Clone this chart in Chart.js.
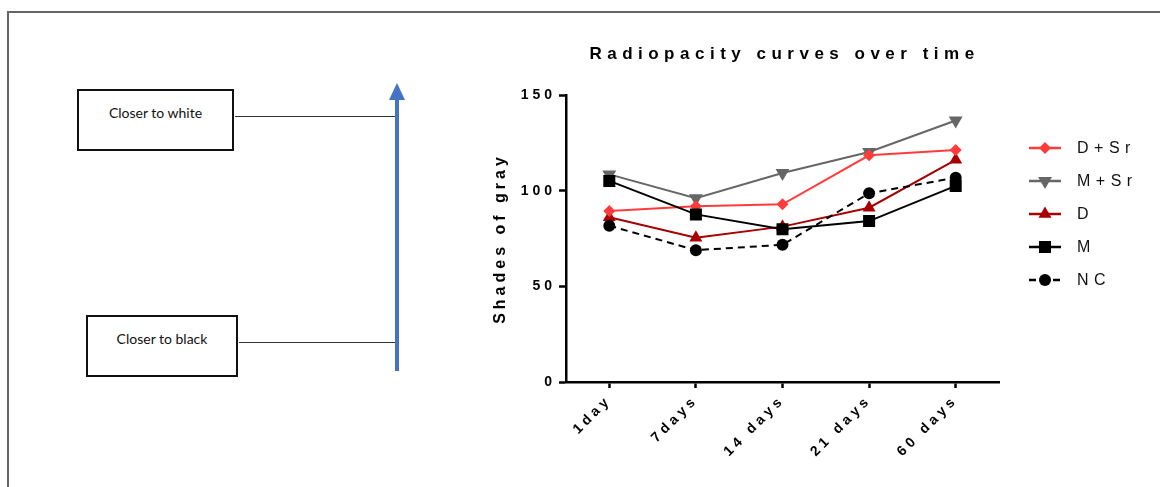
<!DOCTYPE html>
<html lang="en">
<head>
<meta charset="utf-8">
<title>Radiopacity curves over time</title>
<script src="https://cdn.jsdelivr.net/npm/chart.js@4/dist/chart.umd.min.js"></script>
<style>
  body { margin: 0; background: #fff; }
  #wrap { position: relative; width: 1160px; height: 487px; overflow: hidden; }
  #chart { position: absolute; left: 0; top: 0; }
  .frameTop { position: absolute; left: 7px; top: 11px; width: 1153px; height: 2px; background: #666; }
  .frameLeft { position: absolute; left: 7px; top: 11px; width: 2px; height: 476px; background: #666; }
  .box { position: absolute; border: 2px solid #111; box-sizing: border-box;
         font-family: Lato, "Open Sans", sans-serif; font-size: 14px; color: #111; text-align: center; }
  .link { position: absolute; height: 1px; background: #333; }
  .arrow { position: absolute; left: 395px; top: 99px; width: 4px; height: 272px; background: #4472C4; }
  .head { position: absolute; left: 389px; top: 83px; width: 0; height: 0;
          border-left: 8px solid transparent; border-right: 8px solid transparent; border-bottom: 17px solid #4472C4; }
</style>
</head>
<body>
<div id="wrap">
  <div class="frameTop"></div>
  <div class="frameLeft"></div>
  <div class="box" style="left:77px; top:89px; width:157px; height:62px; padding-top:13px;">Closer to white</div>
  <div class="box" style="left:86px; top:315px; width:152px; height:62px; padding-top:13px;">Closer to black</div>
  <div class="link" style="left:235px; top:116px; width:161px;"></div>
  <div class="link" style="left:239px; top:342px; width:157px;"></div>
  <div class="arrow"></div>
  <div class="head"></div>
  <canvas id="chart" width="1160" height="487"></canvas>
</div>
<script>
const days = ['1day', '7days', '14 days', '21 days', '60 days'];
const seriesNames = ['D+Sr', 'M+Sr', 'D', 'M', 'NC'];
const dSr = [89.4, 91.8, 92.9, 118.5, 121.2];
const mSr = [108.5, 96.0, 109.2, 120.2, 136.7];
const dOnly = [86.1, 75.4, 81.2, 91.1, 116.1];
const mOnly = [105.1, 87.6, 79.8, 84.1, 102.5];
const nc = [81.7, 68.9, 71.7, 98.6, 106.8];
const yTicks = [0, 50, 100, 150];

const FONT = '"Liberation Sans", Arial, sans-serif';

// canvas text in the reference is widely letter-spaced
const spacing = {
  id: 'spacing',
  afterInit(chart) { chart.ctx.letterSpacing = '4px'; },
  beforeUpdate(chart) { chart.ctx.letterSpacing = '4px'; },
  beforeDraw(chart) { chart.ctx.letterSpacing = '4px'; }
};

function marker(ctx, ds, x, y) {
  const r = ds.pointRadius;
  ctx.fillStyle = ds.pointBackgroundColor;
  ctx.beginPath();
  if (ds.pointStyle === 'circle') {
    ctx.arc(x, y, r, 0, Math.PI * 2);
  } else if (ds.pointStyle === 'rect') {
    const h = r * Math.SQRT1_2;
    ctx.rect(x - h, y - h, 2 * h, 2 * h);
  } else if (ds.pointStyle === 'rectRot') {
    ctx.moveTo(x, y - r); ctx.lineTo(x + r, y); ctx.lineTo(x, y + r); ctx.lineTo(x - r, y);
  } else {
    const rot = (ds.pointRotation || 0) * Math.PI / 180;
    for (let k = 0; k < 3; k++) {
      const a = rot + k * 2 * Math.PI / 3;
      const px = x + Math.sin(a) * r, py = y - Math.cos(a) * r;
      k ? ctx.lineTo(px, py) : ctx.moveTo(px, py);
    }
  }
  ctx.closePath();
  ctx.fill();
}

const decor = {
  id: 'decor',
  afterDraw(chart) {
    const ctx = chart.ctx;
    const area = chart.chartArea;
    ctx.save();
    // title
    ctx.letterSpacing = '5.5px';
    ctx.font = 'bold 17px ' + FONT;
    ctx.fillStyle = '#000';
    ctx.textAlign = 'center';
    ctx.textBaseline = 'middle';
    ctx.fillText('Radiopacity curves over time', (area.left + area.right) / 2 + 2, 54);
    // legend
    ctx.font = '16px ' + FONT;
    ctx.textAlign = 'left';
    chart.data.datasets.forEach((ds, i) => {
      const y = 148 + i * 33;
      ctx.strokeStyle = ds.borderColor;
      ctx.lineWidth = 2.5;
      ctx.setLineDash(ds.borderDash || []);
      ctx.beginPath();
      ctx.moveTo(1029, y); ctx.lineTo(1061, y);
      ctx.stroke();
      ctx.setLineDash([]);
      marker(ctx, ds, 1045, y);
      ctx.fillStyle = '#111';
      ctx.fillText(ds.label, 1077, y + 1);
    });
    ctx.restore();
  }
};

function series(label, data, color, style, radius, extra) {
  return Object.assign({
    label: label,
    data: data,
    borderColor: color,
    backgroundColor: color,
    pointBackgroundColor: color,
    pointBorderColor: color,
    pointStyle: style,
    pointRadius: radius,
    pointBorderWidth: 0,
    borderWidth: 2,
    tension: 0,
    fill: false
  }, extra || {});
}

const datasets = [
  series(seriesNames[0], dSr, '#FF3B3B', 'rectRot', 6, { order: 2 }),
  series(seriesNames[1], mSr, '#666666', 'triangle', 8, { order: 4, pointRotation: 180 }),
  series(seriesNames[2], dOnly, '#A80000', 'triangle', 7.5, { order: 3 }),
  series(seriesNames[3], mOnly, '#000000', 'rect', 8.5, { order: 1 }),
  series(seriesNames[4], nc, '#000000', 'circle', 6, { order: 0, borderDash: [7, 5] })
];

new Chart(document.getElementById('chart').getContext('2d'), {
  type: 'line',
  data: { labels: days, datasets: datasets },
  plugins: [spacing, decor],
  options: {
    responsive: false,
    animation: false,
    layout: { padding: { left: 480, top: 95, right: 161, bottom: 0 } },
    plugins: {
      legend: { display: false },
      title: { display: false },
      tooltip: { enabled: false }
    },
    scales: {
      x: {
        offset: true,
        afterFit(scale) { scale.height = 105; },
        border: { color: '#000', width: 2.5 },
        grid: { display: true, drawOnChartArea: false, drawTicks: true, tickLength: 6, tickColor: '#000', tickWidth: 2.5, offset: false },
        ticks: {
          color: '#000', autoSkip: false, minRotation: 45, maxRotation: 45, padding: 4,
          font: { family: FONT, size: 14, weight: 'bold' }
        }
      },
      y: {
        min: 0,
        max: 150,
        afterFit(scale) { scale.width = 86; },
        afterBuildTicks(scale) { scale.ticks = yTicks.map(v => ({ value: v })); },
        border: { color: '#000', width: 2.5 },
        grid: { display: true, drawOnChartArea: false, drawTicks: true, tickLength: 7, tickColor: '#000', tickWidth: 2.5 },
        ticks: { color: '#000', padding: 3, font: { family: FONT, size: 14, weight: 'bold' } },
        title: {
          display: true,
          text: 'Shades of gray',
          color: '#000',
          padding: { top: 11, bottom: 0 },
          font: { family: FONT, size: 16, weight: 'bold' }
        }
      }
    }
  }
});
</script>
</body>
</html>
